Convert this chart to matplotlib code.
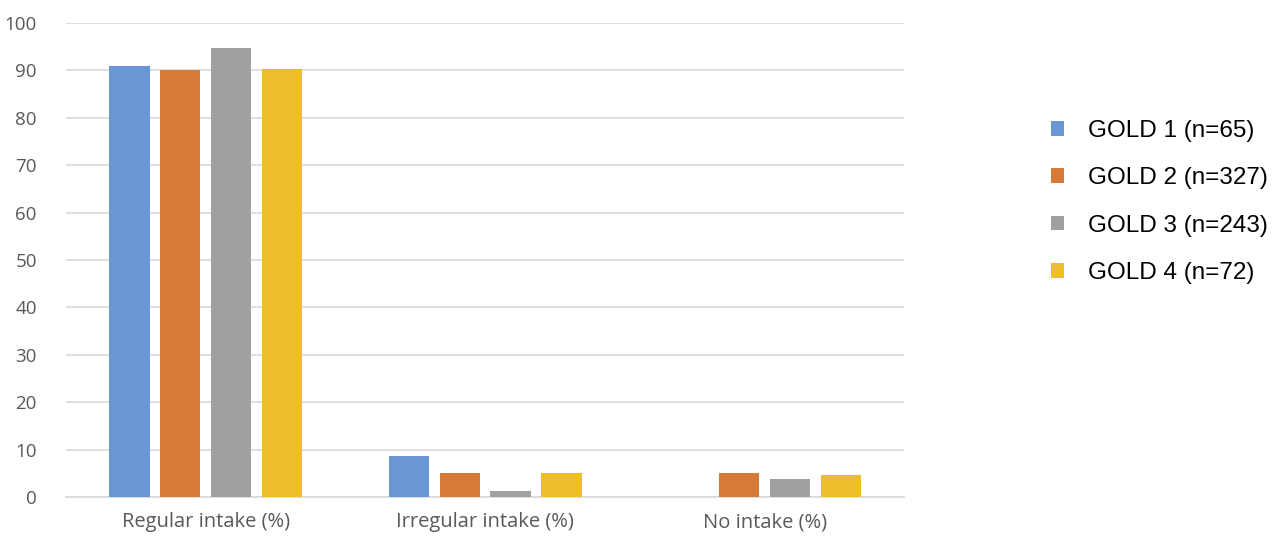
import numpy as np
import matplotlib.pyplot as plt

# dados
categorias = ['Regular intake (%)', 'Irregular intake (%)', 'No intake (%)']
series = ['GOLD 1 (n=65)', 'GOLD 2 (n=327)', 'GOLD 3 (n=243)', 'GOLD 4 (n=72)']
gold1 = [91.0, 8.6, 0.0]
gold2 = [90.0, 5.0, 5.0]
gold3 = [94.8, 1.3, 3.7]
gold4 = [90.2, 5.1, 4.6]
valores = [gold1, gold2, gold3, gold4]

cores = ['#6A96D4', '#D77A36', '#A0A0A0', '#EEBD2B']

fig = plt.figure(figsize=(12.78, 5.38), dpi=100)
ax = fig.add_axes([0.0516, 0.0762, 0.656, 0.881])

x = np.arange(len(categorias))
passo = 0.182
largura = 0.144
for i, (vals, nome) in enumerate(zip(valores, series)):
    ax.bar(x + (i - 1.5) * passo, vals, width=largura, color=cores[i], label=nome, zorder=3)

ax.set_xlim(-0.5, 2.5)
ax.set_ylim(0, 100)
ax.set_yticks(range(0, 101, 10))
ax.set_xticks(x)
ax.set_xticklabels(categorias)
ax.grid(axis='y', color='#D9D9D9', linewidth=1.2, zorder=0)
for s in ['top', 'right', 'left']:
    ax.spines[s].set_visible(False)
ax.spines['bottom'].set_color('#D9D9D9')
ax.spines['bottom'].set_linewidth(1.2)
ax.tick_params(length=0, labelcolor='#595959')
ax.tick_params(axis='x', pad=11, labelsize=14.5)
ax.tick_params(axis='y', pad=21, labelsize=13.5)
for t in ax.get_xticklabels() + ax.get_yticklabels():
    t.set_fontfamily('Open Sans')

handles, labels = ax.get_legend_handles_labels()
fig.legend(handles, labels, loc='upper left', bbox_to_anchor=(0.805, 0.8175),
           frameon=False, prop={'family': 'Liberation Sans', 'size': 17.5},
           handlelength=0.55, handleheight=0.55, handletextpad=1.0, labelspacing=1.04)

fig.savefig('out.png', dpi=100)
